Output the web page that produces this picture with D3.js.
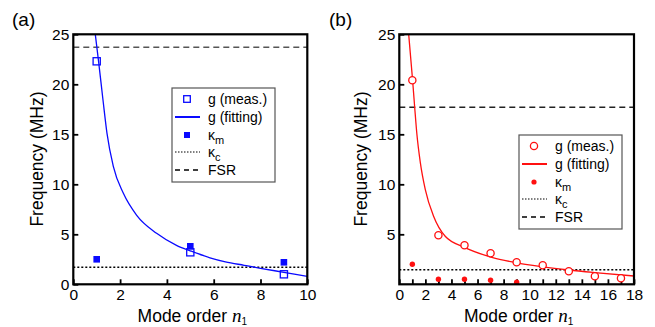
<!DOCTYPE html>
<html>
<head>
<meta charset="utf-8">
<script src="https://cdn.jsdelivr.net/npm/d3@7"></script>
<style>
  body { margin: 0; background: #fff; }
  text { font-family: "Liberation Sans", Arial, sans-serif; fill: #000; }
</style>
</head>
<body>
<script>
const width = 655;
const height = 327;

// panel (a)
const aModes = [1, 5, 9];
const aGMeas = [22.3, 3.2, 1.0];
const aKappaM = [2.5, 3.8, 2.2];
const aKappaC = 1.7;
const aFSR = 23.7;
const aFitN = [0.94, 1.08, 1.27, 1.44, 1.71, 2.14, 2.71, 3.56, 4.41, 5.0, 5.84, 6.5, 7.3, 8.0, 9.0, 10.0];
const aFitG = [25.0, 22.3, 18.4, 15.1, 11.8, 9.1, 6.9, 5.1, 3.9, 3.35, 2.65, 2.25, 1.9, 1.6, 1.2, 0.8];
const aXTicks = [0, 2, 4, 6, 8, 10];

// panel (b)
const bModes = [1, 3, 5, 7, 9, 11, 13, 15, 17];
const bGMeas = [20.4, 4.9, 3.9, 3.1, 2.2, 1.9, 1.3, 0.8, 0.6];
const bKappaModes = [1, 3, 5, 7, 9];
const bKappaM = [2.0, 0.5, 0.5, 0.4, 0.2];
const bKappaC = 1.45;
const bFSR = 17.7;
const bFitN = [0.72, 1.02, 1.18, 1.35, 1.61, 1.99, 2.63, 3.52, 5.0, 7.1, 8.8, 11.0, 13.0, 15.0, 18.0];
const bFitG = [25.0, 20.4, 17.7, 15.0, 12.2, 9.5, 6.8, 4.8, 3.7, 2.7, 2.2, 1.75, 1.43, 1.17, 0.83];
const bXTicks = d3.range(0, 19, 1);
const bXLabels = [0, 2, 4, 6, 8, 10, 12, 14, 16, 18];

const yTicksA = [0, 5, 10, 15, 20, 25];
const yTicksB = [5, 10, 15, 20, 25];

const svg = d3.select("body").append("svg")
    .attr("width", width)
    .attr("height", height);

function drawPanel(p) {
  const x = d3.scaleLinear().domain([0, p.xMax]).range([p.left, p.right]);
  const y = d3.scaleLinear().domain([0, 25]).range([284.3, 34.3]);
  const g = svg.append("g");

  const clipId = "clip-" + p.tag;
  svg.append("clipPath").attr("id", clipId)
    .append("rect")
    .attr("x", p.left).attr("y", 34.3)
    .attr("width", p.right - p.left).attr("height", 250);

  // axes (inward ticks)
  const yAxis = d3.axisLeft(y).tickValues(p.yTicks).tickSizeInner(-5).tickSizeOuter(0).tickPadding(4);
  const gy = g.append("g").attr("transform", `translate(${p.left},0)`).call(yAxis);
  const xAxis = d3.axisBottom(x).tickValues(p.xTicks).tickSizeInner(-5).tickSizeOuter(0).tickPadding(5)
      .tickFormat(d => p.xLabels.includes(d) ? d : "");
  const gx = g.append("g").attr("transform", `translate(0,284.3)`).call(xAxis);
  [gx, gy].forEach(a => {
    a.select(".domain").remove();
    a.selectAll(".tick line").attr("stroke", "#000").attr("stroke-width", 1.8);
    a.selectAll(".tick text").style("font-size", "15.5px").attr("fill", "#000");
  });

  const plot = g.append("g").attr("clip-path", `url(#${clipId})`);

  // FSR dashed
  plot.append("line")
    .attr("x1", p.left).attr("x2", p.right)
    .attr("y1", y(p.fsr)).attr("y2", y(p.fsr))
    .attr("stroke", p.fsrColor).attr("stroke-width", 1.5).attr("stroke-dasharray", "6,4");
  // kappa_c dotted
  plot.append("line")
    .attr("x1", p.left).attr("x2", p.right)
    .attr("y1", y(p.kc)).attr("y2", y(p.kc))
    .attr("stroke", "#000").attr("stroke-width", 1.5).attr("stroke-dasharray", "2,2");

  // fit curve
  const line = d3.line().x(d => x(d[0])).y(d => y(d[1])).curve(d3.curveMonotoneX);
  plot.append("path")
    .datum(d3.zip(p.fitN, p.fitG))
    .attr("d", line)
    .attr("fill", "none")
    .attr("stroke", p.color)
    .attr("stroke-width", 1.3);

  // kappa_m filled markers
  const km = d3.zip(p.kmModes, p.km);
  if (p.shape === "square") {
    plot.selectAll(".km").data(km).enter().append("rect")
      .attr("x", d => x(d[0]) - 3.3).attr("y", d => y(d[1]) - 3.3)
      .attr("width", 6.6).attr("height", 6.6)
      .attr("fill", p.color);
    plot.selectAll(".gm").data(d3.zip(p.modes, p.gMeas)).enter().append("rect")
      .attr("x", d => x(d[0]) - 3.6).attr("y", d => y(d[1]) - 3.6)
      .attr("width", 7.2).attr("height", 7.2)
      .attr("fill", "none").attr("stroke", p.color).attr("stroke-width", 1.3);
  } else {
    plot.selectAll(".km").data(km).enter().append("circle")
      .attr("cx", d => x(d[0])).attr("cy", d => y(d[1])).attr("r", 2.7)
      .attr("fill", p.color);
    plot.selectAll(".gm").data(d3.zip(p.modes, p.gMeas)).enter().append("circle")
      .attr("cx", d => x(d[0])).attr("cy", d => y(d[1])).attr("r", 3.6)
      .attr("fill", "#fff").attr("stroke", p.color).attr("stroke-width", 1.3);
  }

  // frame
  g.append("rect")
    .attr("x", p.left).attr("y", 34.3)
    .attr("width", p.right - p.left).attr("height", 250)
    .attr("fill", "none").attr("stroke", "#000").attr("stroke-width", 2.2);

  // axis titles
  g.append("text")
    .attr("transform", `translate(${p.yTitleX},159) rotate(-90)`)
    .attr("text-anchor", "middle")
    .style("font-size", "17.5px")
    .text("Frequency (MHz)");

  const xt = g.append("text")
    .attr("x", (p.left + p.right) / 2 + 2).attr("y", 322)
    .attr("text-anchor", "middle")
    .style("font-size", "17.5px");
  xt.append("tspan").text("Mode order ");
  xt.append("tspan").style("font-family", "'Liberation Serif', serif")
    .style("font-style", "italic").style("font-size", "19px").text("n");
  xt.append("tspan").attr("dy", 3).style("font-size", "10px").text("1");

  // panel label
  g.append("text").attr("x", p.labelX).attr("y", 26)
    .style("font-size", "19px").text(p.label);

  // legend
  const L = p.legend;
  g.append("rect")
    .attr("x", L.x).attr("y", L.y).attr("width", 103).attr("height", 94)
    .attr("fill", "#fff").attr("stroke", "#555").attr("stroke-width", 1.2);
  const rows = [L.y + 11, L.y + 29, L.y + 47, L.y + 64, L.y + 82];
  const sx = L.x + 15, lx1 = L.x + 3, lx2 = L.x + 28, tx = L.x + 36;
  if (p.shape === "square") {
    g.append("rect").attr("x", sx - 3.3).attr("y", rows[0] - 3.3).attr("width", 6.6).attr("height", 6.6)
      .attr("fill", "none").attr("stroke", p.color).attr("stroke-width", 1.3);
    g.append("rect").attr("x", sx - 3).attr("y", rows[2] - 3).attr("width", 6).attr("height", 6)
      .attr("fill", p.color);
  } else {
    g.append("circle").attr("cx", sx).attr("cy", rows[0]).attr("r", 3.6)
      .attr("fill", "none").attr("stroke", p.color).attr("stroke-width", 1.3);
    g.append("circle").attr("cx", sx).attr("cy", rows[2]).attr("r", 2.6)
      .attr("fill", p.color);
  }
  g.append("line").attr("x1", lx1).attr("x2", lx2).attr("y1", rows[1]).attr("y2", rows[1])
    .attr("stroke", p.color).attr("stroke-width", 2);
  g.append("line").attr("x1", lx1).attr("x2", lx2).attr("y1", rows[3]).attr("y2", rows[3])
    .attr("stroke", "#000").attr("stroke-width", 1).attr("stroke-dasharray", "1.5,1.5");
  g.append("line").attr("x1", lx1).attr("x2", lx2).attr("y1", rows[4]).attr("y2", rows[4])
    .attr("stroke", "#000").attr("stroke-width", 1.3).attr("stroke-dasharray", "5,4");

  const labels = [["g (meas.)"], ["g (fitting)"], ["κ", "m"], ["κ", "c"], ["FSR"]];
  labels.forEach((lab, i) => {
    const t = g.append("text").attr("x", tx).attr("y", rows[i] + 5).style("font-size", "14px");
    t.append("tspan").text(lab[0]);
    if (lab[1]) t.append("tspan").attr("dy", 4).style("font-size", "11px").text(lab[1]);
  });
}

drawPanel({
  tag: "a", label: "(a)", labelX: 12, left: 73.3, right: 307.3, xMax: 10,
  xTicks: aXTicks, xLabels: aXTicks, yTicks: yTicksA, yTitleX: 43,
  modes: aModes, gMeas: aGMeas, kmModes: aModes, km: aKappaM, kc: aKappaC, fsr: aFSR,
  fitN: aFitN, fitG: aFitG, color: "#0a0aff", fsrColor: "#555", shape: "square",
  legend: { x: 172, y: 88 }
});

drawPanel({
  tag: "b", label: "(b)", labelX: 329, left: 399.3, right: 634, xMax: 18,
  xTicks: bXTicks, xLabels: bXLabels, yTicks: yTicksB, yTitleX: 367,
  modes: bModes, gMeas: bGMeas, kmModes: bKappaModes, km: bKappaM, kc: bKappaC, fsr: bFSR,
  fitN: bFitN, fitG: bFitG, color: "#ff1010", fsrColor: "#222", shape: "circle",
  legend: { x: 519, y: 135 }
});
</script>
</body>
</html>
